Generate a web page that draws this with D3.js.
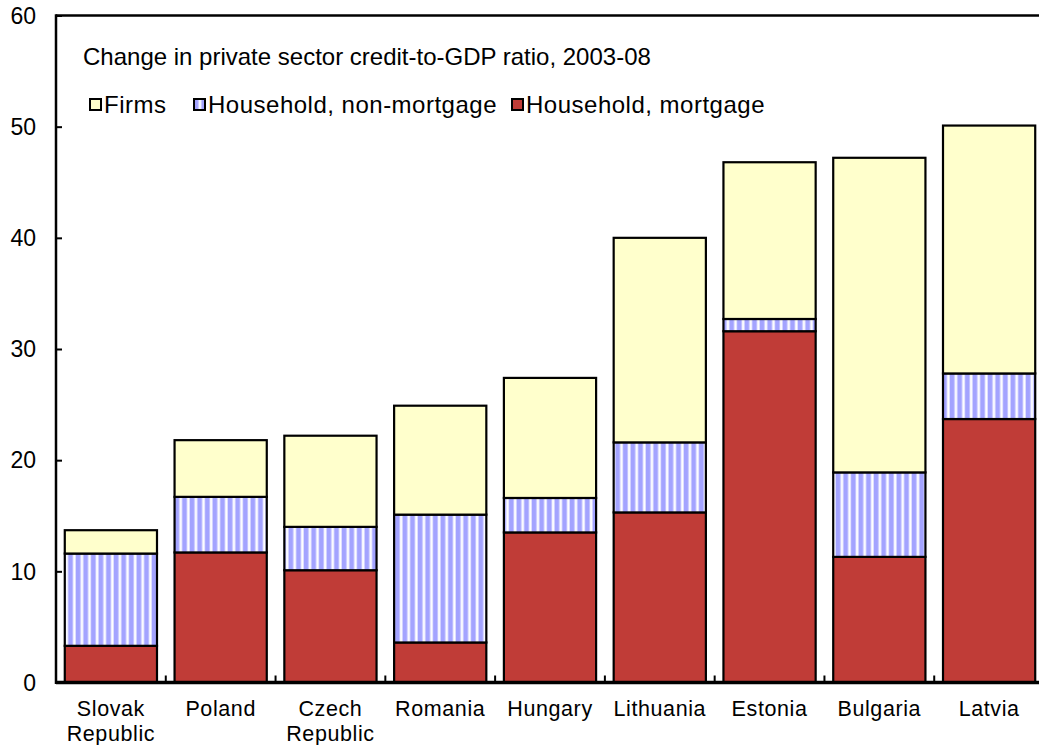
<!DOCTYPE html>
<html>
<head>
<meta charset="utf-8">
<script src="https://cdn.jsdelivr.net/npm/d3@7"></script>
<style>
  html, body { margin: 0; padding: 0; background: #fff; }
  svg { display: block; font-family: "Liberation Sans", Arial, sans-serif; }
</style>
</head>
<body>
<svg id="chart" width="1039" height="745"></svg>
<script>
// Change in private sector credit-to-GDP ratio, 2003-08 (percentage points)
const categories = [
  ["Slovak", "Republic"], ["Poland"], ["Czech", "Republic"], ["Romania"],
  ["Hungary"], ["Lithuania"], ["Estonia"], ["Bulgaria"], ["Latvia"]
];
const mortgage    = [3.3, 11.7, 10.1, 3.6, 13.5, 15.3, 31.6, 11.3, 23.7];
const nonMortgage = [8.3, 5.0, 3.9, 11.5, 3.1, 6.3, 1.1, 7.6, 4.1];
const firms       = [2.1, 5.1, 8.2, 9.8, 10.8, 18.4, 14.1, 28.3, 22.3];
const seriesNames = ["Household, mortgage", "Household, non-mortgage", "Firms"];
const yTicks = [0, 10, 20, 30, 40, 50, 60];
const titleText = "Change in private sector credit-to-GDP ratio, 2003-08";

const svg = d3.select("#chart");
const plotLeft = 56, plotRight = 1044, plotTop = 15.5, plotBottom = 682.5;

// striped fill for the non-mortgage household series
const defs = svg.append("defs");
const pat = defs.append("pattern")
  .attr("id", "stripes").attr("patternUnits", "userSpaceOnUse")
  .attr("width", 7.6).attr("height", 10);
pat.append("rect").attr("width", 7.6).attr("height", 10).attr("fill", "#a3a3ff");
pat.append("rect").attr("x", 4.2).attr("width", 3.4).attr("height", 10).attr("fill", "#d6d6ff");
pat.append("rect").attr("x", 5.0).attr("width", 1.8).attr("height", 10).attr("fill", "#ffffff");

const fills = {
  "Household, mortgage": "#c03c37",
  "Household, non-mortgage": "url(#stripes)",
  "Firms": "#ffffcc"
};

const x = d3.scaleBand().domain(d3.range(categories.length)).range([plotLeft, plotRight]).padding(0);
const y = d3.scaleLinear().domain([0, 60]).range([plotBottom, plotTop]);
const barW = x.step() * 0.84;

const rows = categories.map((c, i) => ({
  i,
  "Household, mortgage": mortgage[i],
  "Household, non-mortgage": nonMortgage[i],
  "Firms": firms[i]
}));
const stacked = d3.stack().keys(seriesNames)(rows);

// frame: top line
svg.append("line").attr("x1", plotLeft).attr("x2", 1039).attr("y1", plotTop).attr("y2", plotTop)
  .attr("stroke", "#000").attr("stroke-width", 2.5);

// bars
stacked.forEach(layer => {
  svg.append("g").selectAll("rect").data(layer).join("rect")
    .attr("x", d => x(d.data.i) + (x.step() - barW) / 2)
    .attr("width", barW)
    .attr("y", d => y(d[1]))
    .attr("height", d => y(d[0]) - y(d[1]))
    .attr("fill", fills[layer.key])
    .attr("stroke", "#000").attr("stroke-width", 2.2);
});

// y axis with inward ticks
const yAxis = d3.axisRight(y).tickValues(yTicks).tickSize(6).tickFormat("");
const yg = svg.append("g").attr("transform", `translate(${plotLeft},0)`).call(yAxis);
yg.select(".domain").remove();
yg.selectAll(".tick line").attr("stroke", "#000").attr("stroke-width", 2);
svg.append("line").attr("x1", plotLeft).attr("x2", plotLeft).attr("y1", plotTop - 1.2).attr("y2", plotBottom + 1.5)
  .attr("stroke", "#000").attr("stroke-width", 2.5);
svg.append("g").selectAll("text").data(yTicks).join("text")
  .attr("x", 36).attr("y", d => y(d)).attr("dy", "0.36em")
  .attr("text-anchor", "end").attr("font-size", 23).attr("fill", "#000")
  .text(d => d);

// x axis: thick baseline with ticks at category boundaries
const boundaries = d3.range(1, categories.length).map(i => x(i));
svg.append("g").selectAll("line").data(boundaries).join("line")
  .attr("x1", d => d).attr("x2", d => d).attr("y1", plotBottom - 7).attr("y2", plotBottom)
  .attr("stroke", "#000").attr("stroke-width", 2);
svg.append("line").attr("x1", plotLeft).attr("x2", 1039).attr("y1", plotBottom).attr("y2", plotBottom)
  .attr("stroke", "#000").attr("stroke-width", 3.5);

// category labels
const lab = svg.append("g").selectAll("text").data(categories).join("text")
  .attr("text-anchor", "middle").attr("font-size", 21.5).attr("fill", "#000")
  .attr("letter-spacing", 0.6)
  .attr("transform", (d, i) => `translate(${x(i) + x.step() / 2},0)`);
lab.selectAll("tspan").data(d => d).join("tspan")
  .attr("x", 0).attr("y", (d, j) => 716 + j * 25).text(d => d);

// title
svg.append("text").attr("x", 83).attr("y", 65).attr("font-size", 24).attr("fill", "#000")
  .text(titleText);

// legend
const legendItems = [
  { name: "Firms", x: 90 },
  { name: "Household, non-mortgage", x: 194 },
  { name: "Household, mortgage", x: 512 }
];
const lg = svg.append("g").selectAll("g").data(legendItems).join("g")
  .attr("transform", d => `translate(${d.x},99)`);
lg.append("rect").attr("width", 11).attr("height", 11)
  .attr("fill", d => fills[d.name]).attr("stroke", "#000").attr("stroke-width", 2);
lg.append("text").attr("x", 14).attr("y", 14).attr("font-size", 24).attr("fill", "#000")
  .attr("letter-spacing", 0.5)
  .text(d => d.name);
</script>
</body>
</html>
